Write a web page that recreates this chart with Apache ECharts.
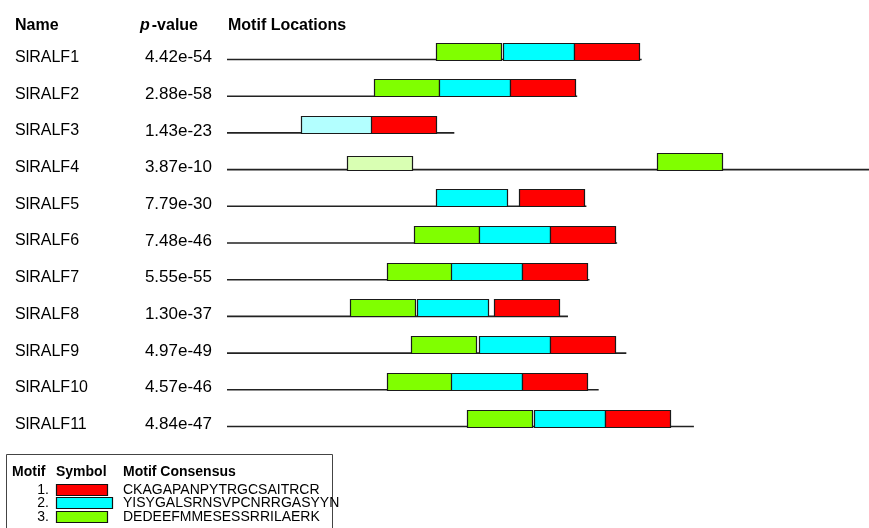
<!DOCTYPE html>
<html>
<head>
<meta charset="utf-8">
<script src="https://cdn.jsdelivr.net/npm/echarts@6/dist/echarts.min.js"></script>
<style>
  html, body { margin: 0; padding: 0; background: #fff; }
  #chart { width: 869px; height: 528px; }
</style>
</head>
<body>
<div id="chart"></div>
<script>
// sequences
const names = ['SlRALF1', 'SlRALF2', 'SlRALF3', 'SlRALF4', 'SlRALF5', 'SlRALF6',
  'SlRALF7', 'SlRALF8', 'SlRALF9', 'SlRALF10', 'SlRALF11'];
const pValues = ['4.42e-54', '2.88e-58', '1.43e-23', '3.87e-10', '7.79e-30', '7.48e-46',
  '5.55e-55', '1.30e-37', '4.97e-49', '4.57e-46', '4.84e-47'];
const seqLengths = [135, 114, 74, 230, 117, 127, 118, 111, 130, 121, 152];

// motifs (1 = red, 2 = cyan, 3 = green)
const motifIds = [1, 2, 3];
const motifWidths = [21, 23, 21];
const motifConsensus = ['CKAGAPANPYTRGCSAITRCR', 'YISYGALSRNSVPCNRRGASYYN', 'DEDEEFMMESESSRRILAERK'];

// hits per sequence: [motif, start, weak, relative height]
const hits = [
  [[3, 68, 0, 1], [2, 90, 0, 1], [1, 113, 0, 1]],
  [[3, 48, 0, 1], [2, 69, 0, 1], [1, 92, 0, 1]],
  [[2, 24, 1, 1], [1, 47, 0, 1]],
  [[3, 39, 1, 0.82], [3, 140, 0, 1]],
  [[2, 68, 0, 1], [1, 95, 0, 1]],
  [[3, 61, 0, 1], [2, 82, 0, 1], [1, 105, 0, 1]],
  [[3, 52, 0, 1], [2, 73, 0, 1], [1, 96, 0, 1]],
  [[3, 40, 0, 1], [2, 62, 0, 1], [1, 87, 0, 1]],
  [[3, 60, 0, 1], [2, 82, 0, 1], [1, 105, 0, 1]],
  [[3, 52, 0, 1], [2, 73, 0, 1], [1, 96, 0, 1]],
  [[3, 78, 0, 1], [2, 100, 0, 1], [1, 123, 0, 1]]
];

const X_MAX = 209;
const FONT = '"Liberation Sans", Arial, Helvetica, sans-serif';
const colors = { 1: '#ff0000', 2: '#00ffff', 3: '#80ff00' };
const lightColors = { 1: '#ffb3b3', 2: '#b3ffff', 3: '#d9ffb3' };
const BOX_H = 17;

const chart = echarts.init(document.getElementById('chart'), null, { renderer: 'canvas' });

const renderRow = (params, api) => {
  const i = params.dataIndex;
  const row = api.value(0);
  const [x0, y] = api.coord([0, row]);
  const [x1] = api.coord([Math.min(seqLengths[i], X_MAX), row]);
  const children = [
    {
      type: 'text',
      style: { text: names[i], x: 15, y: y - 2, font: '16px ' + FONT, fill: '#000', verticalAlign: 'middle' }
    },
    {
      type: 'text',
      style: { text: pValues[i], x: 212, y: y - 2, font: '17px ' + FONT, fill: '#000', align: 'right', verticalAlign: 'middle' }
    },
    {
      type: 'line',
      shape: { x1: x0, y1: y, x2: x1, y2: y },
      style: { stroke: '#222', lineWidth: 1.6 }
    }
  ];
  hits[i].forEach(([m, start, weak, hScale]) => {
    const [a] = api.coord([start, row]);
    const [b] = api.coord([start + motifWidths[m - 1], row]);
    const h = Math.round(BOX_H * hScale);
    children.push({
      type: 'rect',
      shape: { x: Math.round(a) + 0.5, y: Math.round(y) - h + 0.5, width: Math.round(b - a), height: h },
      style: { fill: weak ? lightColors[m] : colors[m], stroke: '#1a1a1a', lineWidth: 1.2 }
    });
  });
  return { type: 'group', children };
};

// legend rows
const legendChildren = [
  { type: 'rect', shape: { x: 6.5, y: 454.5, width: 326, height: 100 }, style: { fill: '#fff', stroke: '#444', lineWidth: 1 } },
  { type: 'text', style: { text: 'Motif', x: 12, y: 472, font: 'bold 14px ' + FONT, fill: '#000', verticalAlign: 'middle' } },
  { type: 'text', style: { text: 'Symbol', x: 56, y: 472, font: 'bold 14px ' + FONT, fill: '#000', verticalAlign: 'middle' } },
  { type: 'text', style: { text: 'Motif Consensus', x: 123, y: 472, font: 'bold 14px ' + FONT, fill: '#000', verticalAlign: 'middle' } }
];
motifIds.forEach((m, k) => {
  const cy = 490 + k * 13.4;
  legendChildren.push(
    { type: 'text', style: { text: m + '.', x: 49, y: cy, font: '14px ' + FONT, fill: '#000', align: 'right', verticalAlign: 'middle' } },
    { type: 'rect', shape: { x: 56.5, y: Math.round(cy) - 5.5, width: Math.round(motifWidths[m - 1] * 2.43), height: 11 },
      style: { fill: colors[m], stroke: '#111', lineWidth: 1.2 } },
    { type: 'text', style: { text: motifConsensus[k], x: 123, y: cy, font: '14px ' + FONT, fill: '#000', verticalAlign: 'middle' } }
  );
});

const option = {
  animation: false,
  backgroundColor: '#fff',
  grid: { left: 227, right: 0, top: 59.5, bottom: 101.5 },
  xAxis: { type: 'value', min: 0, max: X_MAX, show: false },
  yAxis: { type: 'value', min: 0, max: names.length - 1, inverse: true, show: false },
  graphic: [
    { type: 'text', style: { text: 'Name', x: 15, y: 25.5, font: 'bold 16px ' + FONT, fill: '#000', verticalAlign: 'middle' } },
    {
      type: 'text',
      style: {
        text: '{i|p}{b|-value}', x: 140, y: 25.5, verticalAlign: 'middle',
        rich: {
          i: { fontStyle: 'italic', fontWeight: 'bold', fontSize: 16, fontFamily: FONT, fill: '#000', padding: [0, 2, 0, 0] },
          b: { fontWeight: 'bold', fontSize: 16, fontFamily: FONT, fill: '#000' }
        }
      }
    },
    { type: 'text', style: { text: 'Motif Locations', x: 228, y: 25.5, font: 'bold 16px ' + FONT, fill: '#000', verticalAlign: 'middle' } },
    { type: 'group', children: legendChildren }
  ],
  series: [{
    type: 'custom',
    clip: false,
    renderItem: renderRow,
    data: names.map((n, i) => [i])
  }]
};

chart.setOption(option);
</script>
</body>
</html>
